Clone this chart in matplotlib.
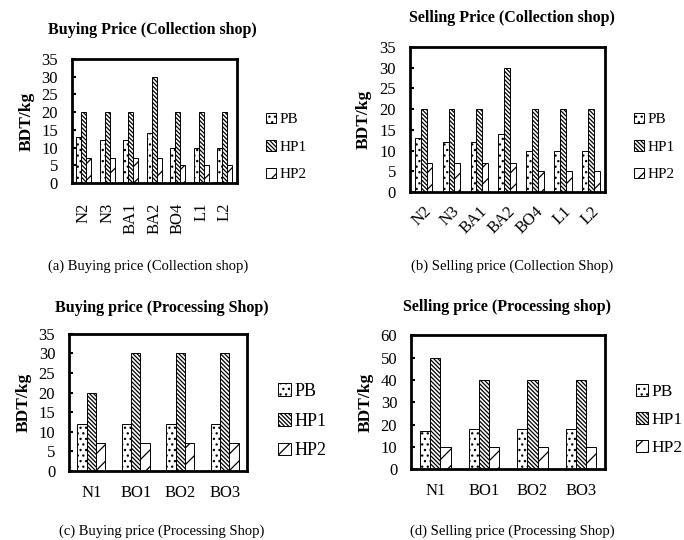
import numpy as np
import matplotlib.pyplot as plt

plt.rcParams['font.family'] = ['Liberation Serif', 'DejaVu Serif']
plt.rcParams['hatch.linewidth'] = 0.9

# collection shop data
coll_sites = ['N2', 'N3', 'BA1', 'BA2', 'BO4', 'L1', 'L2']
coll_buy_pb = [13, 12, 12, 14, 10, 10, 10]
coll_buy_hp1 = [20, 20, 20, 30, 20, 20, 20]
coll_buy_hp2 = [7, 7, 7, 7, 5, 5, 5]
coll_sell_pb = [13, 12, 12, 14, 10, 10, 10]
coll_sell_hp1 = [20, 20, 20, 30, 20, 20, 20]
coll_sell_hp2 = [7, 7, 7, 7, 5, 5, 5]

# processing shop data
proc_sites = ['N1', 'BO1', 'BO2', 'BO3']
proc_buy_pb = [12, 12, 12, 12]
proc_buy_hp1 = [20, 30, 30, 30]
proc_buy_hp2 = [7, 7, 7, 7]
proc_sell_pb = [17, 18, 18, 18]
proc_sell_hp1 = [50, 40, 40, 40]
proc_sell_hp2 = [10, 10, 10, 10]

series = ['PB', 'HP1', 'HP2']
hatches = ['...', '\\' * 8, '//']

fig = plt.figure(figsize=(6.84, 5.4), dpi=100)

panels = [
    # rect, sites, data, ymax, ystep, title, caption, title xy, caption xy, legend xy, rot, legend fs, xpad, spacing
    ([0.105, 0.661, 0.241, 0.230], coll_sites, [coll_buy_pb, coll_buy_hp1, coll_buy_hp2],
     35, 5, 'Buying Price (Collection shop)', '(a) Buying price (Collection shop)',
     (152, 30), (148, 266), (258, 147), 90, 11, 14, 0.9),
    ([0.599, 0.644, 0.285, 0.269], coll_sites, [coll_sell_pb, coll_sell_hp1, coll_sell_hp2],
     35, 5, 'Selling Price (Collection shop)', '(b) Selling price (Collection Shop)',
     (512, 18), (512, 266), (626, 147), 45, 11, 8, 0.9),
    ([0.101, 0.128, 0.260, 0.254], proc_sites, [proc_buy_pb, proc_buy_hp1, proc_buy_hp2],
     35, 5, 'Buying price (Processing Shop)', '(c) Buying price (Processing Shop)',
     (162, 308), (162, 531), (269, 421), 0, 13, 10, 0.7),
    ([0.601, 0.131, 0.284, 0.248], proc_sites, [proc_sell_pb, proc_sell_hp1, proc_sell_hp2],
     60, 10, 'Selling price (Processing shop)', '(d) Selling price (Processing Shop)',
     (507, 307), (512, 531), (627, 420), 0, 12.5, 10, 0.7),
]

W, H = 684.0, 540.0
width = 0.21

for rect, sites, data, ymax, ystep, title, caption, txy, cxy, lxy, rot, lfs, xpad, sp_ in panels:
    ax = fig.add_axes(rect)
    x = np.arange(len(sites))
    for i, vals in enumerate(data):
        ax.bar(x + (i - 1) * width, vals, width, color='white', edgecolor='black',
               linewidth=0.7, hatch=hatches[i], label=series[i])
    ax.set_xlim(-0.5, len(sites) - 0.5)
    ax.set_ylim(0, ymax)
    ax.set_yticks(np.arange(0, ymax + 1, ystep))
    ax.set_xticks(x)
    if rot == 90:
        ax.set_xticklabels(sites, rotation=90, fontsize=12)
    elif rot == 45:
        ax.set_xticklabels(sites, rotation=45, ha='right', rotation_mode='anchor', fontsize=12)
    else:
        ax.set_xticklabels(sites, fontsize=12)
    ax.tick_params(axis='y', direction='in', length=3, width=1.5, labelsize=12, pad=10)
    ax.tick_params(axis='x', length=0, pad=xpad)
    for sp in ax.spines.values():
        sp.set_linewidth(2)
    ax.set_ylabel('BDT/kg', fontsize=12.5, fontweight='bold', labelpad=5)
    fig.text(txy[0] / W, 1 - txy[1] / H, title, ha='center', va='center',
             fontsize=11.5, fontweight='bold')
    fig.text(cxy[0] / W, 1 - cxy[1] / H, caption, ha='center', va='center', fontsize=10.5)
    ax.legend(loc='center left', bbox_to_anchor=(lxy[0] / W, 1 - lxy[1] / H),
              bbox_transform=fig.transFigure, frameon=False, fontsize=lfs,
              handlelength=0.7, handleheight=0.7, handletextpad=0.2,
              labelspacing=sp_, borderpad=0)

fig.savefig('out.png', dpi=100)
